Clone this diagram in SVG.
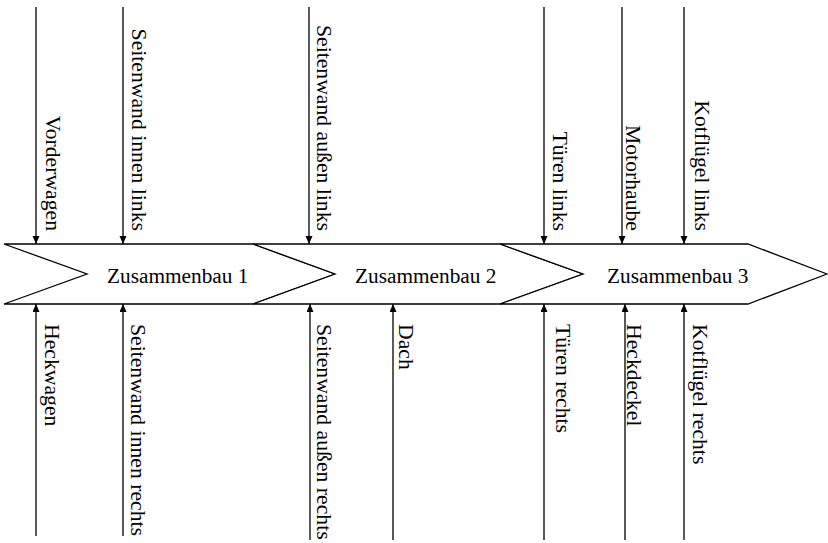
<svg xmlns="http://www.w3.org/2000/svg" width="828" height="543" viewBox="0 0 828 543">
  <style>
    .stage { fill: #ffffff; stroke: #000000; stroke-width: 1.3; stroke-linejoin: miter; }
    .flow { stroke: #000000; stroke-width: 1.3; fill: none; marker-end: url(#head); }
    text { font-family: "Liberation Serif", "Times New Roman", serif; font-size: 21.3px; fill: #000000; }
    .in, .out { font-size: 21.7px; }
    .in { text-anchor: end; }
    .out { text-anchor: start; }
  </style>
  <defs>
    <marker id="head" markerUnits="userSpaceOnUse" markerWidth="8" markerHeight="9" refX="8" refY="3.5" orient="auto">
      <path d="M0,0 L8,3.5 L0,7 Z" fill="#000000"/>
    </marker>
  </defs>

  <rect width="828" height="543" fill="#ffffff"/>

  <!-- assembly stages -->
  <g id="stage1">
    <polygon class="stage" points="4,244 253,244 335,274 253,304 4,304 87,274"/>
    <text x="107" y="283">Zusammenbau 1</text>
  </g>
  <g id="stage2">
    <polygon class="stage" points="253,244 500,244 583,274 500,304 253,304 335,274"/>
    <text x="355" y="283">Zusammenbau 2</text>
  </g>
  <g id="stage3">
    <polygon class="stage" points="500,244 748,244 827,274 748,304 500,304 583,274"/>
    <text x="607" y="283">Zusammenbau 3</text>
  </g>

  <!-- incoming parts -->
  <g id="connectors">
    <line class="flow" x1="36" y1="7" x2="36" y2="244"/>
    <line class="flow" x1="123" y1="7" x2="123" y2="244"/>
    <line class="flow" x1="309" y1="7" x2="309" y2="244"/>
    <line class="flow" x1="544" y1="7" x2="544" y2="244"/>
    <line class="flow" x1="622" y1="7" x2="622" y2="244"/>
    <line class="flow" x1="684" y1="7" x2="684" y2="244"/>

    <line class="flow" x1="36" y1="536" x2="36" y2="304"/>
    <line class="flow" x1="123" y1="536" x2="123" y2="304"/>
    <line class="flow" x1="310" y1="540" x2="310" y2="304"/>
    <line class="flow" x1="393" y1="540" x2="393" y2="304"/>
    <line class="flow" x1="544" y1="540" x2="544" y2="304"/>
    <line class="flow" x1="625" y1="540" x2="625" y2="304"/>
    <line class="flow" x1="684" y1="540" x2="684" y2="304"/>
  </g>

  <!-- part names, rotated along their arrows -->
  <g id="labels-top">
    <text class="in" transform="translate(46,231) rotate(90)">Vorderwagen</text>
    <text class="in" transform="translate(132,231) rotate(90)">Seitenwand innen links</text>
    <text class="in" transform="translate(317,231) rotate(90)">Seitenwand außen links</text>
    <text class="in" transform="translate(553,231) rotate(90)">Türen links</text>
    <text class="in" transform="translate(626,231) rotate(90)">Motorhaube</text>
    <text class="in" transform="translate(695,231) rotate(90)">Kotflügel links</text>
  </g>
  <g id="labels-bottom">
    <text class="out" transform="translate(45,324) rotate(90)">Heckwagen</text>
    <text class="out" transform="translate(131,324) rotate(90)">Seitenwand innen rechts</text>
    <text class="out" transform="translate(317,324) rotate(90)">Seitenwand außen rechts</text>
    <text class="out" transform="translate(399,324) rotate(90)">Dach</text>
    <text class="out" transform="translate(556,324) rotate(90)">Türen rechts</text>
    <text class="out" transform="translate(627,324) rotate(90)">Heckdeckel</text>
    <text class="out" transform="translate(693,324) rotate(90)">Kotflügel rechts</text>
  </g>
</svg>
